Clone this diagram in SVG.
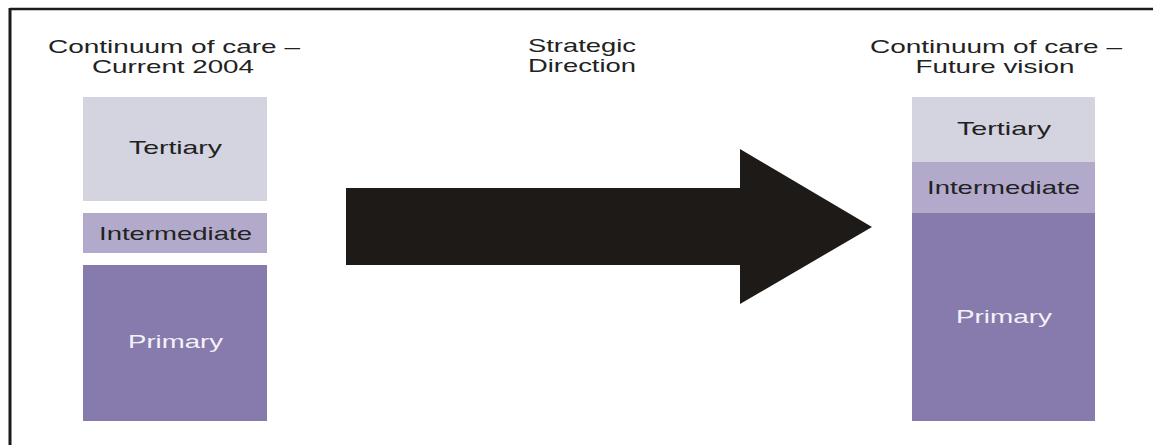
<svg xmlns="http://www.w3.org/2000/svg" width="1153" height="445" viewBox="0 0 1153 445">
<style>
.t{font-family:"Liberation Sans",Arial,sans-serif;font-size:19px;fill:#222;text-anchor:middle}
.w{fill:#f4f2f8}
.ter{fill:#d4d3e0}
.int{fill:#b3aacb}
.pri{fill:#877bae}
</style>
<rect x="0" y="0" width="1153" height="445" fill="#fff"/>
<g id="frame" stroke="#1a1a1a" fill="none">
<line x1="10" y1="9" x2="1153" y2="9" stroke-width="2.5"/>
<line x1="10" y1="8" x2="10" y2="445" stroke-width="3"/>
</g>
<g id="title-current">
<text class="t" x="174" y="53" textLength="252" lengthAdjust="spacingAndGlyphs">Continuum of care –</text>
<text class="t" x="173" y="73" textLength="162" lengthAdjust="spacingAndGlyphs">Current 2004</text>
</g>
<g id="title-strategic">
<text class="t" x="582" y="52" textLength="108" lengthAdjust="spacingAndGlyphs">Strategic</text>
<text class="t" x="582" y="72" textLength="108" lengthAdjust="spacingAndGlyphs">Direction</text>
</g>
<g id="title-future">
<text class="t" x="996" y="53" textLength="252" lengthAdjust="spacingAndGlyphs">Continuum of care –</text>
<text class="t" x="995" y="73" textLength="159" lengthAdjust="spacingAndGlyphs">Future vision</text>
</g>
<g id="current-tertiary">
<rect class="ter" x="83" y="97" width="184" height="104"/>
<text class="t" x="175.5" y="154" textLength="93" lengthAdjust="spacingAndGlyphs">Tertiary</text>
</g>
<g id="current-intermediate">
<rect class="int" x="83" y="213" width="184" height="40"/>
<text class="t" x="175.5" y="240" textLength="153" lengthAdjust="spacingAndGlyphs">Intermediate</text>
</g>
<g id="current-primary">
<rect class="pri" x="83" y="265" width="184" height="156"/>
<text class="t w" x="175.5" y="348" textLength="95" lengthAdjust="spacingAndGlyphs">Primary</text>
</g>
<g id="connectors">
<polygon points="346,188 740,188 740,149 872,227 740,304 740,265 346,265" fill="#1e1a17"/>
</g>
<g id="future-tertiary">
<rect class="ter" x="912" y="97" width="183" height="65"/>
<text class="t" x="1004" y="135" textLength="94" lengthAdjust="spacingAndGlyphs">Tertiary</text>
</g>
<g id="future-intermediate">
<rect class="int" x="912" y="162" width="183" height="51"/>
<text class="t" x="1003.5" y="194" textLength="153" lengthAdjust="spacingAndGlyphs">Intermediate</text>
</g>
<g id="future-primary">
<rect class="pri" x="912" y="213" width="183" height="208"/>
<text class="t w" x="1004" y="323" textLength="96" lengthAdjust="spacingAndGlyphs">Primary</text>
</g>
</svg>
